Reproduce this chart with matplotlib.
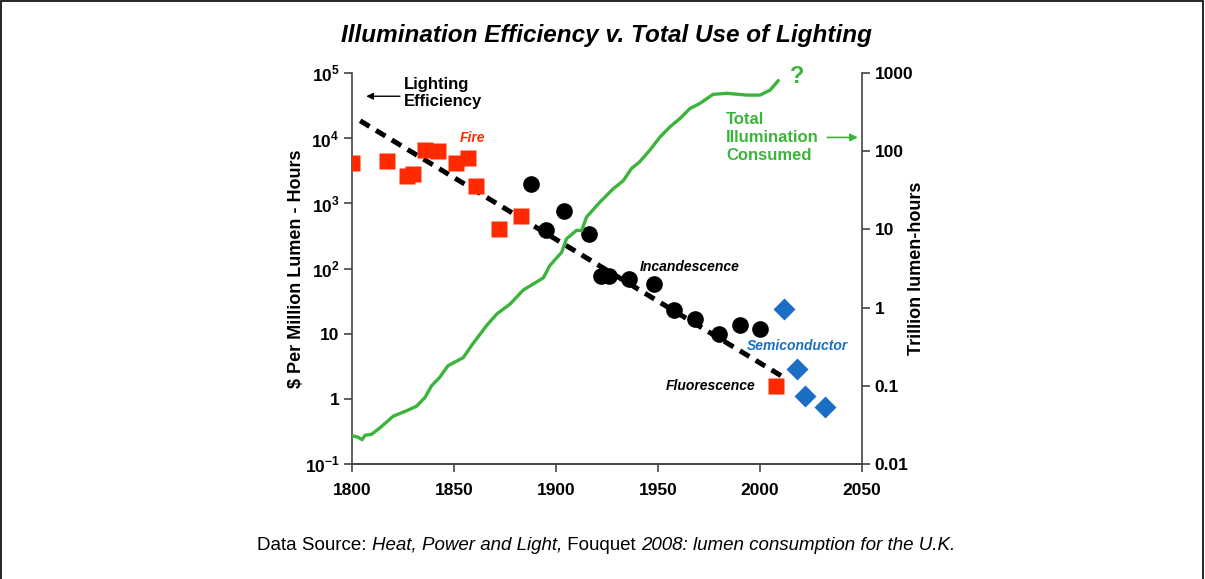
import numpy as np
import matplotlib
matplotlib.use("Agg")
import matplotlib.pyplot as plt
from matplotlib.patches import Rectangle
from matplotlib.ticker import FixedLocator, FixedFormatter, NullLocator

plt.rcParams['font.family'] = ['Liberation Sans', 'DejaVu Sans']
plt.rcParams['mathtext.fontset'] = 'custom'
plt.rcParams['mathtext.rm'] = 'Liberation Sans:bold'
plt.rcParams['mathtext.bf'] = 'Liberation Sans:bold'

# cost of light, $ per million lumen-hours
fire_year = [1800, 1817, 1827, 1830, 1836, 1842, 1851, 1857, 1861, 1872, 1883]
fire_cost = [4200, 4500, 2630, 2800, 6500, 6400, 4100, 5000, 1850, 410, 650]

incand_year = [1888, 1895, 1904, 1916, 1922, 1926, 1936, 1948, 1958, 1968, 1980, 1990, 2000]
incand_cost = [1960, 386, 762, 342, 77, 77, 68, 57, 23, 16.6, 9.9, 13.6, 11.7]

fluor_year = [2008]
fluor_cost = [1.59]

semi_year = [2012, 2018, 2022, 2032]
semi_cost = [23.9, 2.84, 1.12, 0.76]

trend_year = [1804, 2011]
trend_cost = [18500, 2.2]

# total illumination consumed, trillion lumen-hours
use_year = [1800, 1803, 1805, 1806.4, 1809.6, 1813.7, 1820.3, 1826.8, 1831.7, 1835.8,
            1839, 1843, 1847, 1854.6, 1858.7, 1866, 1871, 1877.5, 1884, 1893.8,
            1897, 1902.8, 1905.2, 1910, 1912.6, 1915, 1921.6, 1928, 1933, 1937,
            1941, 1946, 1951, 1955.9, 1960.8, 1965.7, 1970.6, 1977, 1983.7, 1993.5,
            2000, 2005, 2009]
use_total = [0.023, 0.022, 0.0205, 0.0233, 0.024, 0.029, 0.041, 0.048, 0.055, 0.071,
             0.10, 0.128, 0.18, 0.23, 0.33, 0.59, 0.83, 1.11, 1.68, 2.4,
             3.45, 5.1, 7.6, 9.7, 9.7, 14.4, 22.4, 33, 42, 60,
             73, 103, 152, 205, 262, 352, 409, 533, 550, 522,
             522, 605, 800]

left_ticks = [0.1, 1, 10, 100, 1000, 10000, 100000]
left_labels = ['$10^{-1}$', '1', '10', '$10^{2}$', '$10^{3}$', '$10^{4}$', '$10^{5}$']
right_ticks = [0.01, 0.1, 1, 10, 100, 1000]
right_labels = ['0.01', '0.1', '1', '10', '100', '1000']
year_ticks = [1800, 1850, 1900, 1950, 2000, 2050]

RED = '#ff2a00'
GREEN = '#3cb43c'
BLUE = '#1a6fc4'
SPINE = '#444444'

fig = plt.figure(figsize=(12.05, 5.79), dpi=100)
fig.patches.append(Rectangle((0.001, -0.05), 0.997, 1.049, transform=fig.transFigure,
                             fill=False, edgecolor='black', linewidth=1.2))

ax = fig.add_axes([0.2921, 0.1986, 0.4232, 0.6753])
ax2 = ax.twinx()

ax.set_yscale('log')
ax.set_xlim(1800, 2050)
ax.set_ylim(0.1, 1e5)
ax2.set_yscale('log')
ax2.set_ylim(0.01, 1000)

# efficiency points and trend
ax.plot(trend_year, trend_cost, color='black', lw=3.6, dashes=(2.2, 1.5), zorder=3)
ax.plot(fire_year, fire_cost, 's', color=RED, ms=11.5, mec='none', zorder=4)
ax.plot(fluor_year, fluor_cost, 's', color=RED, ms=11.5, mec='none', zorder=4)
ax.plot(incand_year, incand_cost, 'o', color='black', ms=12, mec='none', zorder=4)
ax.plot(semi_year, semi_cost, 'D', color=BLUE, ms=11, mec='none', zorder=4)

# total use on the right axis
ax2.plot(use_year, use_total, color=GREEN, lw=2.4, solid_capstyle='round')
ax2.annotate('', xy=(2012, 1040), xytext=(use_year[-1], use_total[-1]),
             arrowprops=dict(arrowstyle='-|>', color=GREEN, lw=2.4,
                             mutation_scale=16, shrinkA=0, shrinkB=0))
ax2.text(2014.5, 900, '?', color=GREEN, fontsize=17, fontweight='bold', va='center')

for a in (ax, ax2):
    a.spines['top'].set_visible(False)
    for s in a.spines.values():
        s.set_color(SPINE)
        s.set_linewidth(1.2)
    a.tick_params(axis='both', which='major', length=6, width=1.2, color=SPINE,
                  labelsize=12.5, pad=3)
    a.yaxis.set_minor_locator(NullLocator())
ax2.spines['left'].set_visible(False)
ax.spines['right'].set_visible(False)

ax.yaxis.set_major_locator(FixedLocator(left_ticks))
ax.yaxis.set_major_formatter(FixedFormatter(left_labels))
ax2.yaxis.set_major_locator(FixedLocator(right_ticks))
ax2.yaxis.set_major_formatter(FixedFormatter(right_labels))
ax.set_xticks(year_ticks)
ax.set_xticklabels([str(y) for y in year_ticks])
ax.tick_params(axis='x', pad=8)
for lab in ax.get_xticklabels() + ax.get_yticklabels() + ax2.get_yticklabels():
    lab.set_fontweight('bold')

ax.set_ylabel('\\$ Per Million Lumen - Hours', fontsize=13, fontweight='bold', labelpad=0)
ax2.set_ylabel('Trillion lumen-hours', fontsize=13, fontweight='bold', labelpad=-4)

# labels inside the plot
ax.text(1825.5, 4.9e4, 'Lighting\nEfficiency', fontsize=12, fontweight='bold',
        va='center', ha='left', linespacing=1.2)
ax.annotate('', xy=(1807, 4.4e4), xytext=(1823.5, 4.4e4),
            arrowprops=dict(arrowstyle='-|>', color='black', lw=1, mutation_scale=10,
                            shrinkA=0, shrinkB=0))
ax.text(1859, 1.0e4, 'Fire', color=RED, fontsize=10, fontweight='bold',
        style='italic', ha='center', va='center')
ax.text(1965.5, 105, 'Incandescence', fontsize=10, fontweight='bold', style='italic',
        ha='center', va='center')
ax.text(2018.5, 6.5, 'Semiconductor', color=BLUE, fontsize=10, fontweight='bold',
        style='italic', ha='center', va='center')
ax.text(1976, 1.6, 'Fluorescence', fontsize=10, fontweight='bold', style='italic',
        ha='center', va='center')
ax2.text(1983.5, 150, 'Total\nIllumination\nConsumed', color=GREEN, fontsize=12,
         fontweight='bold', ha='left', va='center', linespacing=1.25)
ax2.annotate('', xy=(2048, 150), xytext=(2033, 150),
             arrowprops=dict(arrowstyle='-|>', color=GREEN, lw=1.2, mutation_scale=11,
                             shrinkA=0, shrinkB=0))

fig.text(0.503, 0.938, 'Illumination Efficiency v. Total Use of Lighting',
         fontsize=17.5, fontweight='bold', style='italic', ha='center', va='center')

# source line, mixed upright and italic pieces laid out side by side
pieces = [('Data Source: ', 'normal'), ('Heat, Power and Light,', 'italic'),
          (' Fouquet ', 'normal'), ('2008: lumen consumption for the U.K.', 'italic')]
renderer = fig.canvas.get_renderer()
texts = [fig.text(0, 0.057, s, fontsize=13.5, style=st, ha='left', va='center')
         for s, st in pieces]
widths = [t.get_window_extent(renderer).width for t in texts]
x = 0.5 * fig.bbox.width - sum(widths) / 2 + 4
for t, w in zip(texts, widths):
    t.set_x(x / fig.bbox.width)
    x += w

fig.savefig('out.png', dpi=100)
